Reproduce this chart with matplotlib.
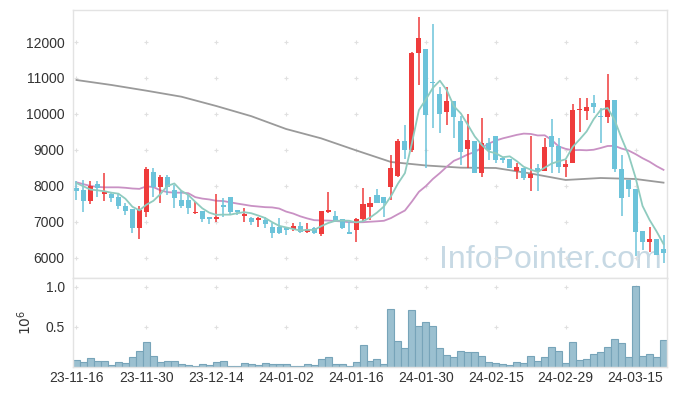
import matplotlib
matplotlib.use("Agg")
import matplotlib.pyplot as plt
import numpy as np

# ---------------- data ----------------
dates = ["23-11-16", "23-11-30", "23-12-14", "24-01-02", "24-01-16",
         "24-01-30", "24-02-15", "24-02-29", "24-03-15"]
date_pos = [0, 10, 20, 30, 40, 50, 60, 70, 80]

opens = [7944, 7889, 7592, 8055, 7787, 7787, 7694, 7453, 7361, 6842,
         7287, 8379, 7981, 8241, 7889, 7611, 7611, 7241, 7306, 7148,
         7074, 7472, 7685, 7333, 7167, 7102, 7056, 7056, 6870, 6852,
         6820, 6796, 6889, 6731, 6824, 6667, 7287, 7167, 7074, 6731,
         6778, 7083, 7426, 7750, 7685, 7981, 8287, 9250, 9000, 11685,
         11806, 10898, 10555, 10065, 10370, 9806, 9028, 9250, 8370, 9185,
         9389, 8769, 8741, 8426, 8491, 8232, 8491, 8426, 9389, 9120,
         8519, 8630, 10111, 10093, 10296, 9944, 9926, 10389, 8463, 8167,
         7907, 6750, 6454, 6519, 6241]
highs = [8148, 8167, 8148, 8148, 8352, 7815, 7796, 7518, 7361, 7450,
         8537, 8490, 8305, 8305, 8027, 7889, 7750, 7546, 7306, 7148,
         7778, 7676, 7685, 7333, 7380, 7148, 7148, 7148, 6963, 7102,
         6840, 6963, 7009, 6981, 6852, 7306, 7843, 7315, 7074, 7009,
         7120, 7954, 7704, 7907, 7685, 8861, 9296, 9694, 11732, 12685,
         11806, 12500, 10759, 10759, 10370, 9944, 9991, 9250, 9880, 9324,
         9389, 8815, 8741, 8648, 8491, 9389, 8600, 9324, 9852, 9324,
         8722, 10269, 10435, 10435, 10528, 10157, 11111, 10389, 8861, 8167,
         7907, 6750, 6870, 6519, 6639]
lows = [7611, 7287, 7490, 7685, 7592, 7565, 7352, 7194, 6703, 6518,
        7150, 7685, 7518, 7750, 7380, 7380, 7213, 7213, 7009, 6935,
        7009, 7148, 7213, 7194, 6991, 6917, 6870, 6843, 6546, 6667,
        6639, 6759, 6685, 6704, 6667, 6620, 7241, 7009, 6806, 6667,
        6435, 7028, 7056, 7519, 7130, 7611, 8259, 8750, 8954, 10806,
        8500, 9600, 9481, 9694, 9324, 8584, 8491, 8370, 8241, 8722,
        8630, 8630, 8491, 8185, 8167, 7870, 7870, 8426, 8352, 8352,
        8259, 8630, 9509, 9833, 10019, 9204, 9741, 8398, 7167, 7704,
        6056, 6222, 6176, 6083, 5852]
closes = [7870, 7592, 8009, 7953, 7842, 7676, 7453, 7305, 6842, 7333,
          8472, 7981, 8241, 7981, 7676, 7454, 7398, 7287, 7083, 7074,
          7148, 7426, 7287, 7287, 7213, 7009, 7102, 6944, 6704, 6704,
          6790, 6889, 6731, 6796, 6685, 7306, 7333, 7028, 6843, 6667,
          7074, 7491, 7537, 7537, 7519, 8491, 9250, 9000, 11704, 12102,
          9972, 10852, 9999, 10361, 9907, 8954, 9278, 8370, 9185, 9000,
          8722, 8722, 8491, 8519, 8213, 8324, 8398, 9093, 9093, 8519,
          8611, 10111, 10135, 10204, 10204, 9907, 10389, 8463, 7676, 7907,
          6732, 6454, 6528, 6083, 6148]

volumes = [87500, 62500, 110000, 75000, 75000, 30000, 62500, 50000, 125000, 200000,
           310000, 137500, 62500, 75000, 75000, 37500, 30000, 17000, 37500, 30000,
           62500, 75000, 17000, 17000, 50000, 37500, 30000, 50000, 37500, 37500,
           37500, 17000, 17000, 37500, 30000, 100000, 125000, 37500, 37500, 12000,
           62500, 275000, 75000, 100000, 37500, 717000, 325000, 237500, 704000, 512500,
           562500, 512500, 237500, 150000, 125000, 200000, 187500, 187500, 137500, 62500,
           50000, 37500, 25000, 62500, 50000, 137500, 75000, 125000, 250000, 200000,
           50000, 312500, 87500, 100000, 162500, 187500, 250000, 350000, 300000, 125000,
           1012500, 140000, 162500, 125000, 337500]

ma5 = [8080, 7990, 7900, 7880, 7853, 7814, 7787, 7646, 7424, 7322,
       7481, 7587, 7774, 8002, 8070, 7867, 7750, 7559, 7380, 7259,
       7198, 7204, 7204, 7244, 7272, 7244, 7180, 7111, 6994, 6893,
       6849, 6806, 6764, 6782, 6778, 6881, 6970, 7030, 7039, 7035,
       6989, 7021, 7122, 7261, 7432, 7715, 8067, 8359, 9193, 10109,
       10406, 10726, 10926, 10657, 10218, 10015, 9700, 9374, 9139, 8957,
       8911, 8800, 8824, 8691, 8533, 8454, 8389, 8509, 8624, 8685,
       8743, 9085, 9294, 9516, 9853, 10112, 10168, 9833, 9328, 8868,
       8233, 7446, 7059, 6741, 6389]

ma20 = [8102, 8050, 8000, 7975, 7963, 7963, 7963, 7950, 7930, 7920,
        7990, 7970, 7880, 7830, 7815, 7815, 7800, 7690, 7650, 7626,
        7590, 7582, 7546, 7512, 7481, 7448, 7430, 7412, 7405, 7374,
        7289, 7235, 7159, 7100, 7051, 7043, 7040, 7027, 7015, 6995,
        6991, 6994, 7007, 7019, 7034, 7109, 7216, 7319, 7569, 7839,
        7998, 8196, 8359, 8538, 8699, 8781, 8878, 8945, 9063, 9179,
        9262, 9323, 9371, 9420, 9455, 9446, 9404, 9408, 9278, 9099,
        9031, 8994, 9000, 8992, 9007, 9055, 9111, 9115, 9040, 8985,
        8886, 8772, 8674, 8552, 8449]

ma_long_idx = [0, 5, 10, 15, 20, 25, 30, 35, 40, 45, 50, 55, 60, 65, 70, 75, 80, 84]
ma_long = [10944, 10806, 10648, 10481, 10222, 9940, 9583, 9324, 8990, 8667,
           8570, 8509, 8500, 8347, 8167, 8222, 8194, 8093]

# ---------------- style ----------------
plt.rcParams['font.family'] = ['Liberation Sans', 'DejaVu Sans']
RED = '#ef3b3b'
BLUE = '#6cc3da'
TXT = '#333333'
SPINE = '#e3e3e3'
GRIDC = '#e0e0e0'

fig = plt.figure(figsize=(6.77, 3.96), dpi=100)
L, R = 73 / 677, 667 / 677
ax = fig.add_axes([L, 1 - 278 / 396, R - L, (278 - 10) / 396])
axv = fig.add_axes([L, 1 - 367 / 396, R - L, (367 - 278) / 396], sharex=ax)

x = np.arange(len(closes))
o = np.array(opens); c = np.array(closes); h = np.array(highs); lo = np.array(lows)
up = c >= o
cols = np.where(up, RED, BLUE)

# watermark
ax.text(0.992, 0.037, "InfoPointer.com", transform=ax.transAxes, ha='right',
        va='baseline', fontsize=23, color='#c7d9e4', zorder=0)

# plus-shaped grid markers
yt = [6000, 7000, 8000, 9000, 10000, 11000, 12000]
gx, gy = np.meshgrid(date_pos, yt)
ax.scatter(gx.ravel(), gy.ravel(), marker='+', s=10, color=GRIDC, linewidths=0.8, zorder=0.5)

# moving averages
ax.plot(ma_long_idx, ma_long, color='#9a9a9a', lw=1.3, zorder=1)
ax.plot(x, ma20, color='#c991c4', lw=1.3, zorder=1)
ax.plot(x, ma5, color='#8fcbbf', lw=1.3, zorder=3)

# candles
ax.vlines(x, lo, h, colors=cols, lw=1.1, zorder=2)
body_bottom = np.minimum(o, c)
body_h = np.maximum(np.abs(c - o), 18)
ax.bar(x, body_h, bottom=body_bottom, width=0.72, color=cols, zorder=2.5, linewidth=0)

ax.set_xlim(-0.5, 84.5)
ax.set_ylim(5444, 12889)
ax.set_yticks(yt)
ax.set_yticklabels([str(v) for v in yt])
ax.tick_params(axis='y', length=0, pad=6, labelsize=10, colors=TXT)
ax.tick_params(axis='x', length=0, labelbottom=False)
for s in ax.spines.values():
    s.set_color(SPINE)
    s.set_linewidth(1.0)

# volume
vol_m = np.array(volumes) / 1e6
axv.bar(x, vol_m, width=1.0, color='#9bc0d0', edgecolor='#77a4b9', linewidth=0.8, zorder=2)
vt = [0.5, 1.0]
gx2, gy2 = np.meshgrid(date_pos, vt)
axv.scatter(gx2.ravel(), gy2.ravel(), marker='+', s=10, color=GRIDC, linewidths=0.8, zorder=0.5)
axv.set_ylim(0, 1.107)
axv.set_yticks(vt)
axv.set_yticklabels(['0.5', '1.0'])
axv.set_xticks(date_pos)
axv.set_xticklabels(dates)
axv.tick_params(axis='both', length=0, labelsize=10, colors=TXT)
axv.tick_params(axis='y', pad=6)
axv.tick_params(axis='x', pad=3)
axv.set_ylabel('$10^6$', fontsize=10, color=TXT, labelpad=8)
for s in axv.spines.values():
    s.set_color(SPINE)
    s.set_linewidth(1.0)

fig.savefig('out.png', dpi=100, facecolor='white')
